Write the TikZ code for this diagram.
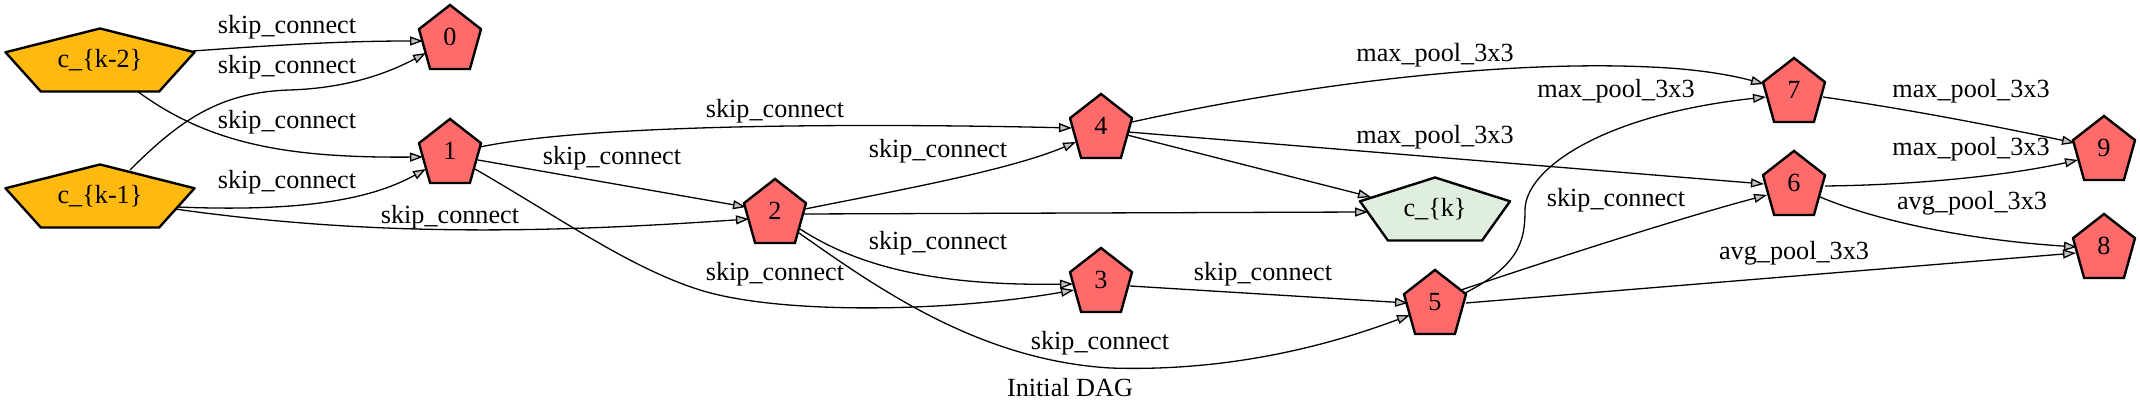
\documentclass[tikz,border=0pt]{standalone}
\usepackage{fontspec}
\setmainfont{Liberation Serif}
\usepackage{tikz}
\usetikzlibrary{calc,positioning}
\usetikzlibrary{arrows.meta}
\usepackage{xcolor}
\definecolor{opred}{HTML}{FF6A6A}
\definecolor{ingold}{HTML}{FFB90F}
\definecolor{outgreen}{HTML}{E0EEE0}
\definecolor{tipgray}{HTML}{C0C0C0}

\begin{document}
\begin{tikzpicture}[x=0.5pt, y=-0.5pt, font=\fontsize{13.1}{15}\selectfont,
	pent/.style = {inner sep=0pt, path picture={
		\draw[line width=1.2pt, fill=#1]
			($(path picture bounding box.north)+(0pt,-0.6pt)$)
			-- ($(path picture bounding box.north east)!0.382!(path picture bounding box.south east)+(-0.6pt,0pt)$)
			-- ($(path picture bounding box.south)!0.618!(path picture bounding box.south east)+(0pt,0.6pt)$)
			-- ($(path picture bounding box.south)!0.618!(path picture bounding box.south west)+(0pt,0.6pt)$)
			-- ($(path picture bounding box.north west)!0.382!(path picture bounding box.south west)+(0.6pt,0pt)$)
			-- cycle;}},
	op/.style = {pent=opred, minimum width=32.2pt, minimum height=33.2pt},
	inp/.style = {pent=ingold, minimum width=95.7pt, minimum height=32.7pt},
	outp/.style = {pent=outgreen, minimum width=76.2pt, minimum height=32.7pt},
	conn/.style = {line width=0.65pt, -{Triangle[length=6.5pt, width=4.5pt, fill=tipgray]}},
	lbl/.style = {inner sep=0pt}]
	\useasboundingbox (0,0) rectangle (2140,415);
	\node[inp] (km2) at (100,60) {c\_\{k-2\}};
	\node[inp] (km1) at (100,196) {c\_\{k-1\}};
	\node[op] (0) at (450,37) {0};
	\node[op] (1) at (450,151) {1};
	\node[op] (2) at (775,211) {2};
	\node[op] (4) at (1101,126) {4};
	\node[op] (3) at (1101,280) {3};
	\node[outp] (k) at (1435,209) {c\_\{k\}};
	\node[op] (5) at (1435,302) {5};
	\node[op] (7) at (1794,90) {7};
	\node[op] (6) at (1794,183) {6};
	\node[op] (9) at (2104,148) {9};
	\node[op] (8) at (2104,246) {8};
	\draw[conn] ($(km2)+(93,-9)$) .. controls (290,44) and (350,41) .. ($(0)+(-27,4)$);
	\draw[conn] ($(km1)+(30,-26)$) .. controls (180,120) and (220,92) .. (290,90) .. controls (350,88) and (390,72) .. ($(0)+(-24,16)$);
	\draw[conn] ($(km2)+(37,31)$) .. controls (210,145) and (290,158) .. ($(1)+(-27,6)$);
	\draw[conn] ($(km1)+(77,11)$) .. controls (300,212) and (370,200) .. ($(1)+(-24,18)$);
	\draw[conn] ($(km1)+(75,13)$) .. controls (380,238) and (560,232) .. ($(2)+(-26,8)$);
	\draw[conn] ($(1)+(30,-4)$) .. controls (600,122) and (900,124) .. ($(4)+(-29,2)$);
	\draw[conn] ($(1)+(28,9)$) -- ($(2)+(-29,-4)$);
	\draw[conn] ($(1)+(25,18)$) .. controls (560,218) and (630,268) .. (700,290) .. controls (780,315) and (950,312) .. ($(3)+(-27,10)$);
	\draw[conn] ($(2)+(30,-2)$) .. controls (900,190) and (1010,170) .. ($(4)+(-25,16)$);
	\draw[conn] ($(2)+(28,3)$) -- ($(k)+(-67,3)$);
	\draw[conn] ($(2)+(25,18)$) .. controls (860,268) and (940,286) .. ($(3)+(-28,4)$);
	\draw[conn] ($(2)+(24,22)$) .. controls (880,290) and (980,360) .. (1110,368) .. controls (1230,372) and (1330,345) .. ($(5)+(-25,13)$);
	\draw[conn] ($(4)+(31,-4)$) .. controls (1300,85) and (1500,60) .. (1650,67) .. controls (1700,69) and (1735,76) .. ($(7)+(-30,-6)$);
	\draw[conn] ($(4)+(27,6)$) -- ($(6)+(-30,1)$);
	\draw[conn] ($(4)+(26,9)$) -- ($(k)+(-64,-12)$);
	\draw[conn] ($(3)+(29,6)$) -- ($(5)+(-27,1)$);
	\draw[conn] ($(5)+(30,-9)$) .. controls (1520,265) and (1525,240) .. (1525,210) .. controls (1525,170) and (1600,115) .. ($(7)+(-28,7)$);
	\draw[conn] ($(5)+(26,-12)$) .. controls (1550,260) and (1680,218) .. ($(6)+(-27,12)$);
	\draw[conn] ($(5)+(31,1)$) -- ($(8)+(-28,7)$);
	\draw[conn] ($(7)+(29,7)$) .. controls (1900,108) and (1990,125) .. ($(9)+(-29,-5)$);
	\draw[conn] ($(6)+(31,3)$) .. controls (1920,185) and (2010,175) .. ($(9)+(-26,12)$);
	\draw[conn] ($(6)+(26,14)$) .. controls (1880,222) and (1970,240) .. ($(8)+(-27,1)$);
	\node[lbl] (l1) at (287,27) {skip\_connect};
	\node[lbl] (l2) at (287,67) {skip\_connect};
	\node[lbl] (l3) at (287,122) {skip\_connect};
	\node[lbl] (l4) at (287,182) {skip\_connect};
	\node[lbl] (l5) at (450,217) {skip\_connect};
	\node[lbl] (l6) at (612,158) {skip\_connect};
	\node[lbl] (l7) at (775,111) {skip\_connect};
	\node[lbl] (l8) at (938,151) {skip\_connect};
	\node[lbl] (l9) at (938,243) {skip\_connect};
	\node[lbl] (l10) at (775,274) {skip\_connect};
	\node[lbl] (l11) at (1100,343) {skip\_connect};
	\node[lbl] (l12) at (1435,55) {max\_pool\_3x3};
	\node[lbl] (l13) at (1435,137) {max\_pool\_3x3};
	\node[lbl] (l14) at (1263,274) {skip\_connect};
	\node[lbl] (l15) at (1616,91) {max\_pool\_3x3};
	\node[lbl] (l16) at (1616,200) {skip\_connect};
	\node[lbl] (l17) at (1971,91) {max\_pool\_3x3};
	\node[lbl] (l18) at (1971,149) {max\_pool\_3x3};
	\node[lbl] (l19) at (1972,203) {avg\_pool\_3x3};
	\node[lbl] (l20) at (1794,253) {avg\_pool\_3x3};
	\node[lbl] (title) at (1070,388) {Initial DAG};
\end{tikzpicture}
\end{document}
